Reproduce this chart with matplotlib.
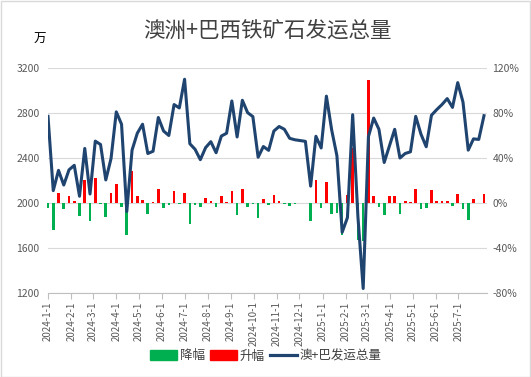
import matplotlib
matplotlib.use("Agg")
import matplotlib.pyplot as plt
from matplotlib.patches import Patch, Rectangle
from matplotlib.lines import Line2D
from matplotlib.ticker import FuncFormatter
import pandas as pd

plt.rcParams['font.family'] = ['Noto Sans CJK SC', 'DejaVu Sans']

# weekly data, first week 2024-01-01
start = '2024-01-01'
total = [2770, 2110, 2290, 2160, 2295, 2335, 2060, 2485, 2080, 2550,
         2520, 2205, 2395, 2810, 2700, 1925, 2470, 2620, 2700, 2440,
         2460, 2760, 2640, 2600, 2875, 2845, 3100, 2527, 2477, 2385,
         2492, 2545, 2447, 2595, 2620, 2907, 2587, 2913, 2803, 2768,
         2407, 2502, 2468, 2640, 2680, 2655, 2575, 2562, 2555, 2548,
         2150, 2593, 2489, 2950, 2650, 2420, 1740, 1870, 2785, 1877,
         1240, 2590, 2755, 2655, 2360, 2508, 2655, 2400, 2440, 2455,
         2770, 2612, 2500, 2780, 2830, 2875, 2928, 2850, 3070, 2897,
         2470, 2570, 2565, 2776]
# week on week change, %
change = [-4.5, -23.8, 8.5, -5.7, 6.3, 1.7, -11.8, 20.6, -16.3, 22.6,
          -1.2, -12.5, 8.6, 17.3, -3.9, -28.7, 28.3, 6.1, 3.1, -9.6,
          0.8, 12.2, -4.3, -1.5, 10.6, -1.0, 9.0, -18.5, -2.0, -3.7,
          4.5, 2.1, -3.9, 6.0, 1.0, 11.0, -11.0, 12.6, -3.8, -1.2,
          -13.0, 3.9, -1.4, 7.0, 1.5, -0.9, -3.0, -0.5, -0.3, -0.3,
          -15.6, 20.6, -4.0, 18.5, -10.2, -8.7, -28.1, 7.5, 48.9, -32.6,
          -33.9, 108.9, 6.4, -3.6, -11.1, 6.3, 5.9, -9.6, 1.7, 0.6,
          12.8, -5.7, -4.3, 11.2, 1.8, 1.6, 1.8, -2.7, 7.7, -5.6,
          -14.7, 4.0, -0.2, 8.2]
month_ticks = ['2024-1-1', '2024-2-1', '2024-3-1', '2024-4-1', '2024-5-1',
               '2024-6-1', '2024-7-1', '2024-8-1', '2024-9-1', '2024-10-1',
               '2024-11-1', '2024-12-1', '2025-1-1', '2025-2-1', '2025-3-1',
               '2025-4-1', '2025-5-1', '2025-6-1', '2025-7-1']

dates = pd.date_range(start, periods=len(total), freq='7D')
tick_dates = pd.to_datetime(month_ticks, format='%Y-%m-%d')

green = '#00B050'
red = '#FF0000'
navy = '#1F4470'
grey = '#595959'

fig = plt.figure(figsize=(5.31, 3.77), dpi=100)
ax = fig.add_axes([48/531, 1-293/377, 439/531, 225/377])
ax2 = ax.twinx()

# bars on the right axis
cols = [red if c >= 0 else green for c in change]
ax2.bar(dates, change, width=3.5, color=cols, clip_on=False, zorder=2)
ax2.set_ylim(-80, 120)
ax2.set_yticks(range(-80, 121, 40))
ax2.yaxis.set_major_formatter(FuncFormatter(lambda v, p: f'{int(v)}%'))
ax2.yaxis.grid(True, color='#D9D9D9', linewidth=0.8)
ax2.set_axisbelow(True)

# line on the left axis, drawn above the bars
ax.plot(dates, total, color=navy, linewidth=2.2, zorder=3)
ax.set_ylim(1200, 3200)
ax.set_yticks(range(1200, 3201, 400))
ax.set_zorder(ax2.get_zorder() + 1)
ax.patch.set_visible(False)

ax.set_xlim(dates[0], dates[0] + pd.Timedelta(days=585))
ax.set_xticks(tick_dates)
ax.set_xticklabels(month_ticks, rotation=90, fontsize=7, color=grey)

for a in (ax, ax2):
    for s in ('top', 'left', 'right'):
        a.spines[s].set_visible(False)
    a.spines['bottom'].set_color('#BFBFBF')
    a.tick_params(axis='y', length=0, labelsize=7.5, labelcolor=grey, pad=6)
ax2.tick_params(axis='y', pad=4)
ax2.spines['bottom'].set_visible(False)
ax.tick_params(axis='x', length=4, color='#BFBFBF', pad=2)

fig.text(0.503, 1-31/377, '澳洲+巴西铁矿石发运总量', ha='center', va='center',
         fontsize=15.5, color='#404040')
fig.text(40/531, 1-39/377, '万', ha='center', va='center', fontsize=9, color='black')

handles = [Patch(color=green, label='降幅'), Patch(color=red, label='升幅'),
           Line2D([], [], color=navy, linewidth=2.3, label='澳+巴发运总量')]
fig.legend(handles=handles, loc='center', bbox_to_anchor=(0.5, 1-356/377), ncol=3,
           frameon=False, fontsize=9, handlelength=2.2, handleheight=0.8,
           columnspacing=0.4, handletextpad=0.2, labelcolor='#404040')

fig.add_artist(Rectangle((0.001, 0.001), 0.997, 0.997, transform=fig.transFigure,
                         fill=False, edgecolor='#D9D9D9', linewidth=1))

fig.savefig('out.png', dpi=100)
